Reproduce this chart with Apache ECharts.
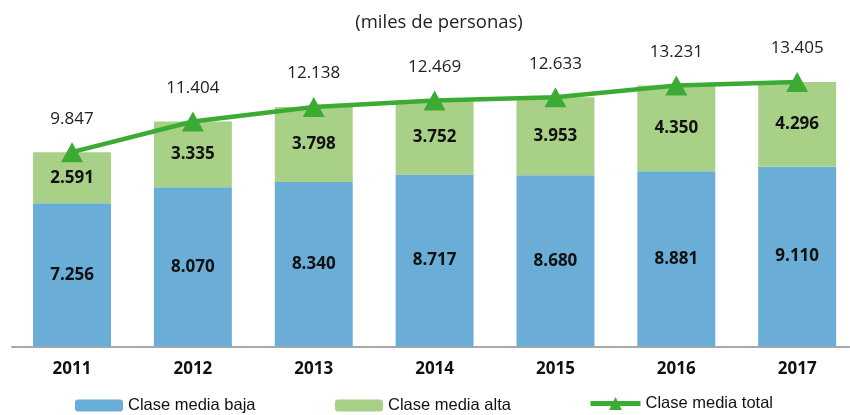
<!DOCTYPE html>
<html>
<head>
<meta charset="utf-8">
<script src="https://cdn.jsdelivr.net/npm/echarts@6/dist/echarts.min.js"></script>
<style>
  html, body { margin: 0; padding: 0; background: #fff; }
  #chart { width: 850px; height: 415px; }
</style>
</head>
<body>
<div id="chart"></div>
<script>
var years = ['2011', '2012', '2013', '2014', '2015', '2016', '2017'];
var baja = [7256, 8070, 8340, 8717, 8680, 8881, 9110];
var alta = [2591, 3335, 3798, 3752, 3953, 4350, 4296];
var total = [9847, 11404, 12138, 12469, 12633, 13231, 13405];

var fmt = function (v) {
    return String(v).replace(/\B(?=(\d{3})+(?!\d))/g, '.');
};
var txtFont = "'Open Sans', 'Noto Sans', sans-serif";
var legFont = "'Liberation Sans', Arial, sans-serif";

var myChart = echarts.init(document.getElementById('chart'));
var option = {
    animation: false,
    title: {
        text: '(miles de personas)',
        left: 434,
        textAlign: 'center',
        top: 8,
        textStyle: { fontFamily: txtFont, fontSize: 18.5, fontWeight: 'normal', color: '#222' }
    },
    legend: [
        {
            data: ['Clase media baja'], left: 70, top: 392,
            itemWidth: 48, itemHeight: 12,
            textStyle: { fontFamily: legFont, fontSize: 16.5, color: '#111' }
        },
        {
            data: ['Clase media alta'], left: 330, top: 392,
            itemWidth: 48, itemHeight: 12,
            textStyle: { fontFamily: legFont, fontSize: 16.5, color: '#111' }
        },
        {
            data: ['Clase media total'], left: 583, top: 390,
            itemWidth: 50, itemHeight: 16,
            lineStyle: { width: 5 },
            textStyle: { fontFamily: legFont, fontSize: 16.5, color: '#111' }
        }
    ],
    grid: { left: 11.6, width: 846, top: 50.5, bottom: 68.5, outerBoundsMode: 'none', containLabel: false },
    xAxis: {
        type: 'category',
        data: years,
        axisTick: { show: false },
        axisLine: { lineStyle: { color: '#8c8c8c', width: 1.5 } },
        axisLabel: { fontFamily: txtFont, fontSize: 17, fontWeight: 'bold', color: '#111', margin: 14 }
    },
    yAxis: {
        type: 'value', min: 0, max: 15000, show: false,
        splitLine: { show: false }
    },
    series: [
        {
            name: 'Clase media baja', type: 'bar', stack: 'c', data: baja,
            barWidth: '64.5%',
            itemStyle: { color: '#6aadd6' },
            label: {
                show: true, position: 'inside', formatter: function (p) { return fmt(p.value); },
                fontFamily: txtFont, fontSize: 17, fontWeight: 'bold', color: '#111'
            }
        },
        {
            name: 'Clase media alta', type: 'bar', stack: 'c', data: alta,
            itemStyle: { color: '#a9d087' },
            label: {
                show: true, position: 'inside', formatter: function (p) { return fmt(p.value); },
                fontFamily: txtFont, fontSize: 17, fontWeight: 'bold', color: '#111'
            }
        },
        {
            name: 'Clase media total', type: 'line', data: total,
            symbol: 'triangle', symbolSize: [22, 20],
            lineStyle: { color: '#3cab34', width: 4.5 },
            itemStyle: { color: '#3cab34' },
            label: {
                show: true, position: 'top', distance: 15,
                formatter: function (p) { return fmt(p.value); },
                fontFamily: txtFont, fontSize: 17, color: '#222'
            },
            z: 5
        }
    ]
};
myChart.setOption(option);
</script>
</body>
</html>
